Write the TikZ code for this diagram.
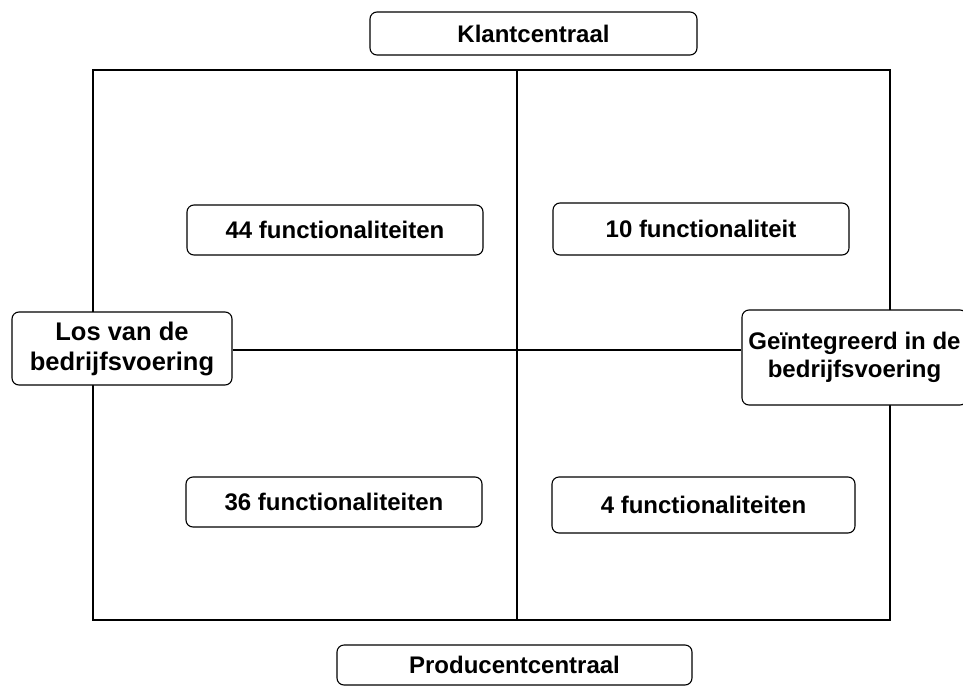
\documentclass[tikz,border=0pt]{standalone}
\usepackage{fontspec}
\setmainfont{Liberation Sans}
\begin{document}
\begin{tikzpicture}[x=1pt,y=-1pt,
  lbl/.style={draw=black,line width=1.1pt,rounded corners=7pt,fill=white,font=\bfseries\fontsize{24}{28}\selectfont,align=center,inner sep=0pt},
  big/.style={font=\bfseries\fontsize{25.5}{30}\selectfont},
  frame/.style={draw=black,line width=1.2pt}]
\useasboundingbox (0,0) rectangle (963,688);
\coordinate (tl) at (93,70);
\coordinate (br) at (890,620);
\draw[frame] (tl) rectangle (br);
\coordinate (vt) at (517,70);
\coordinate (vb) at (517,620);
\draw[frame] (vt) -- (vb);
\node[lbl,minimum width=327pt,minimum height=43pt] (top) at (533.5,33.5) {Klantcentraal};
\node[lbl,minimum width=355pt,minimum height=40pt] (bot) at (514.5,665) {Producentcentraal};
\node[lbl,minimum width=296pt,minimum height=50pt] (q1) at (335,230) {44 functionaliteiten};
\node[lbl,minimum width=296pt,minimum height=52pt] (q2) at (701,229) {10 functionaliteit};
\node[lbl,minimum width=296pt,minimum height=50pt] (q3) at (334,502) {36 functionaliteiten};
\node[lbl,minimum width=303pt,minimum height=56pt] (q4) at (703.5,505) {4 functionaliteiten};
\node[lbl,big,minimum width=220pt,minimum height=73pt] (left) at (122,348.5) {Los van de\\bedrijfsvoering};
\node[lbl,minimum width=225pt,minimum height=95pt] (right) at (854.5,357.5) {Geïntegreerd in de\\bedrijfsvoering};
\draw[frame] (left.east |- 0,350) -- (right.west |- 0,350);
\end{tikzpicture}
\end{document}
